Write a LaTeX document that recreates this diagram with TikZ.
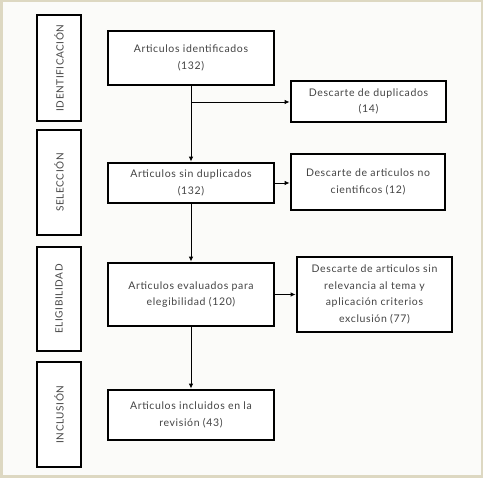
\documentclass[tikz,border=0pt]{standalone}
\usepackage{fontspec}
\setmainfont{Lato}[LetterSpace=6]
\usetikzlibrary{arrows.meta}
\definecolor{frameclr}{HTML}{DDD8C2}
\definecolor{bgclr}{HTML}{FBFBF9}
\definecolor{txtclr}{HTML}{444444}
\tikzset{
  box/.style={draw=black, line width=2.8pt, fill=white, inner sep=0pt, align=center, text=txtclr,
              font=\fontsize{10.5}{16.5}\selectfont},
  sidebox/.style={draw=black, line width=2.8pt, fill=white, inner sep=0pt, minimum width=44pt,
              text=txtclr},
  sidelabel/.style={rotate=90, text=txtclr, font=\fontsize{10}{12}\selectfont},
  conn/.style={line width=0.9pt, -{Latex[length=5pt,width=4.5pt]}}
}
\begin{document}
\begin{tikzpicture}[x=1pt,y=1pt]
\fill[frameclr] (0,0) rectangle (483,478);
\fill[bgclr] (2.5,2.5) rectangle (480.5,475.5);
\useasboundingbox (0,0) rectangle (483,478);

% side phase boxes
\node[sidebox, minimum height=106pt] (s1) at (59,410) {};
\node[sidelabel] (s1t) at (s1.center) {IDENTIFICACIÓN};
\node[sidebox, minimum height=105pt] (s2) at (59,295.5) {};
\node[sidelabel] (s2t) at (s2.center) {SELECCIÓN};
\node[sidebox, minimum height=104pt] (s3) at (59,179) {};
\node[sidelabel] (s3t) at (s3.center) {ELIGIBILIDAD};
\node[sidebox, minimum height=105pt] (s4) at (59,63.5) {};
\node[sidelabel] (s4t) at (s4.center) {INCLUSIÓN};

% main boxes
\node[box, minimum width=166pt, minimum height=54pt] (m1) at (191,420) {Articulos identificados\\(132)};
\node[box, minimum width=166pt, minimum height=40pt] (m2) at (191,295) {Articulos sin duplicados\\(132)};
\node[box, minimum width=166pt, minimum height=63pt] (m3) at (191,183.5) {Articulos evaluados para\\elegibilidad (120)};
\node[box, minimum width=166pt, minimum height=50pt] (m4) at (191,63) {Articulos incluidos en la\\revisión (43)};

% right boxes
\node[box, minimum width=155pt, minimum height=41pt] (r1) at (368.5,376.5) {Descarte de duplicados\\(14)};
\node[box, minimum width=154pt, minimum height=56pt] (r2) at (368,296) {Descarte de articulos no\\cientificos (12)};
\node[box, minimum width=155pt, minimum height=75pt] (r3) at (374.5,183.5) {Descarte de articulos sin\\relevancia al tema y\\aplicación criterios\\exclusión (77)};

% connectors
\coordinate (b1) at (191,376);
\draw[conn] (m1.south) -- (m2.north);
\draw[conn] (b1) -- (b1 -| r1.west);
\draw[conn] (m2.east) -- (m2.east -| r2.west);
\draw[conn] (m2.south) -- (m3.north);
\draw[conn] (m3.east) -- (m3.east -| r3.west);
\draw[conn] (m3.south) -- (m4.north);
\end{tikzpicture}
\end{document}
